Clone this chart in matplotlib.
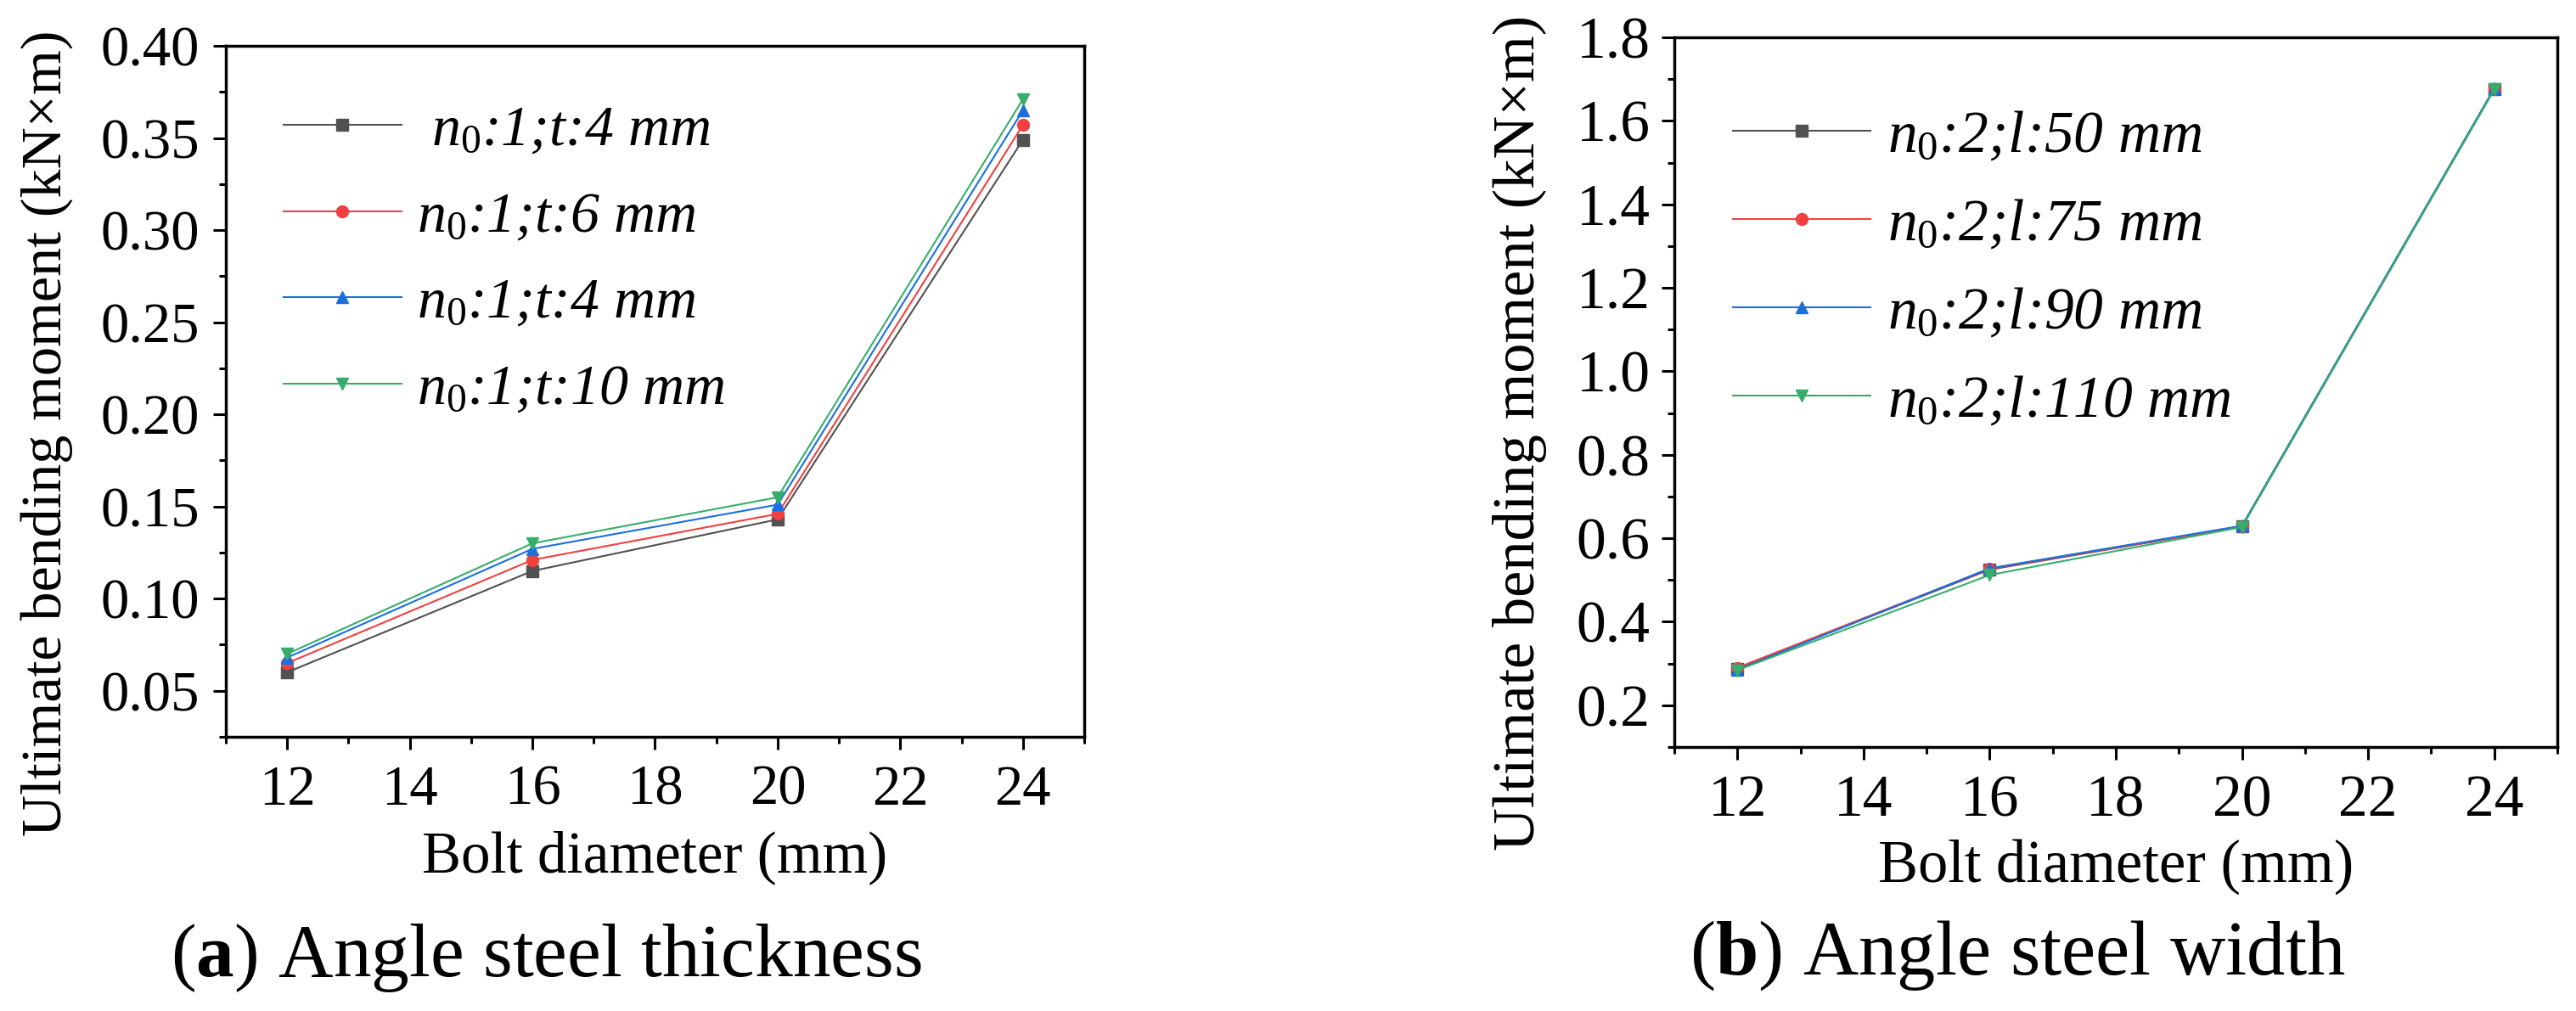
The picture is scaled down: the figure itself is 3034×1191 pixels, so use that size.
import matplotlib
matplotlib.use('Agg')
import numpy as np
import matplotlib.pyplot as plt
from matplotlib.ticker import MultipleLocator, FormatStrFormatter

plt.rcParams['font.family'] = ['Liberation Serif', 'DejaVu Serif']
plt.rcParams['mathtext.fontset'] = 'custom'
plt.rcParams['mathtext.rm'] = 'Liberation Serif'
plt.rcParams['mathtext.it'] = 'Liberation Serif:italic'
plt.rcParams['mathtext.bf'] = 'Liberation Serif:bold'

# data
bolt = [12, 16, 20, 24]

# (a) angle steel thickness
a_t4 = [0.060, 0.115, 0.143, 0.349]
a_t6 = [0.065, 0.121, 0.146, 0.357]
a_t4b = [0.068, 0.127, 0.151, 0.365]
a_t10 = [0.070, 0.130, 0.155, 0.371]
a_labels = [r' $\mathit{n}_{\mathit{0}}$:1;t:4 mm', r'$\mathit{n}_{\mathit{0}}$:1;t:6 mm',
            r'$\mathit{n}_{\mathit{0}}$:1;t:4 mm', r'$\mathit{n}_{\mathit{0}}$:1;t:10 mm']

# (b) angle steel width
b_l50 = [0.288, 0.525, 0.628, 1.676]
b_l75 = [0.290, 0.527, 0.628, 1.676]
b_l90 = [0.285, 0.528, 0.630, 1.678]
b_l110 = [0.284, 0.512, 0.627, 1.675]
b_labels = [r'$\mathit{n}_{\mathit{0}}$:2;l:50 mm', r'$\mathit{n}_{\mathit{0}}$:2;l:75 mm',
            r'$\mathit{n}_{\mathit{0}}$:2;l:90 mm', r'$\mathit{n}_{\mathit{0}}$:2;l:110 mm']

colors = ['#515151', '#F14040', '#1A6FDF', '#37AD6B']
markers = ['s', 'o', '^', 'v']

W, H = 3034, 1191
fig = plt.figure(figsize=(W / 100, H / 100), dpi=100)


def px_axes(l, t, r, b):
    return fig.add_axes([l / W, 1 - b / H, (r - l) / W, (b - t) / H])


def style(ax, fs, ypad):
    for s in ax.spines.values():
        s.set_linewidth(2.5)
    ax.tick_params(which='both', direction='out', width=2.2, labelsize=fs,
                   top=False, right=False)
    ax.tick_params(which='major', length=11)
    ax.tick_params(which='minor', length=5.5)
    ax.tick_params(axis='x', pad=12.7)
    ax.tick_params(axis='y', pad=ypad)
    ax.set_xlim(11, 25)
    ax.xaxis.set_major_locator(MultipleLocator(2))
    ax.xaxis.set_minor_locator(MultipleLocator(1))


def handle_pos(leg):
    out = []
    for h in leg.legend_handles:
        xy = h.get_transform().transform(np.column_stack([h.get_xdata(), h.get_ydata()]))
        out.append((xy[:, 0].min(), xy[:, 1].mean()))
    return out


def place_legend(ax, fs, hl, htp, x_left, y_first, pitch):
    # legend rows and first handle put where the picture has them
    fs_px = fs * 100 / 72
    kw = dict(loc='upper left', frameon=False, borderpad=0, borderaxespad=0,
              handlelength=hl, handletextpad=htp, prop={'style': 'italic', 'size': fs})
    ls, anchor = 0.4, [0.05, 0.95]
    for _ in range(3):
        leg = ax.legend(bbox_to_anchor=tuple(anchor), labelspacing=ls, **kw)
        fig.canvas.draw()
        pos = handle_pos(leg)
        ls += (pitch - (pos[0][1] - pos[1][1])) / fs_px
    leg = ax.legend(bbox_to_anchor=tuple(anchor), labelspacing=ls, **kw)
    fig.canvas.draw()
    pos = handle_pos(leg)
    bb = ax.get_window_extent()
    anchor[0] += (x_left - pos[0][0]) / bb.width
    anchor[1] += ((H - y_first) - pos[0][1]) / bb.height
    ax.legend(bbox_to_anchor=tuple(anchor), labelspacing=ls, **kw)


# ---- panel (a)
ax1 = px_axes(266, 54, 1277, 868)
for ys, c, m, lab in zip([a_t4, a_t6, a_t4b, a_t10], colors, markers, a_labels):
    ax1.plot(bolt, ys, color=c, marker=m, ms=10, lw=1.5, label=lab)
style(ax1, 48, 11.5)
ax1.set_ylim(0.025, 0.40)
ax1.yaxis.set_major_locator(MultipleLocator(0.05))
ax1.yaxis.set_minor_locator(MultipleLocator(0.025))
ax1.yaxis.set_major_formatter(FormatStrFormatter('%.2f'))

# ---- panel (b)
ax2 = px_axes(1972, 44, 3012, 880)
for ys, c, m, lab in zip([b_l50, b_l75, b_l90, b_l110], colors, markers, b_labels):
    ax2.plot(bolt, ys, color=c, marker=m, ms=10, lw=1.5, label=lab)
style(ax2, 50, 9.5)
ax2.set_ylim(0.1, 1.8)
ax2.yaxis.set_major_locator(MultipleLocator(0.2))
ax2.yaxis.set_minor_locator(MultipleLocator(0.1))
ax2.yaxis.set_major_formatter(FormatStrFormatter('%.1f'))

place_legend(ax1, 49, 2.04, 0.26, 334, 147, 101.6)
place_legend(ax2, 50, 2.33, 0.29, 2041, 154, 104)

# axis labels and captions
ylab = 'Ultimate bending moment (kN×m)'
fig.text(55 / W, 1 - 510 / H, ylab, rotation=90, ha='center', va='center', fontsize=49)
fig.text(1790 / W, 1 - 510 / H, ylab, rotation=90, ha='center', va='center', fontsize=50.7)
fig.text(771 / W, 1 - 1027 / H, 'Bolt diameter (mm)', ha='center', va='baseline', fontsize=49.7)
fig.text(2492 / W, 1 - 1039 / H, 'Bolt diameter (mm)', ha='center', va='baseline', fontsize=50.8)
fig.text(643 / W, 1 - 1150 / H, r'($\mathbf{a}$) Angle steel thickness',
         ha='center', va='baseline', fontsize=64.4)
fig.text(2376 / W, 1 - 1148 / H, r'($\mathbf{b}$) Angle steel width',
         ha='center', va='baseline', fontsize=65.2)

fig.savefig('out.png', dpi=100)
